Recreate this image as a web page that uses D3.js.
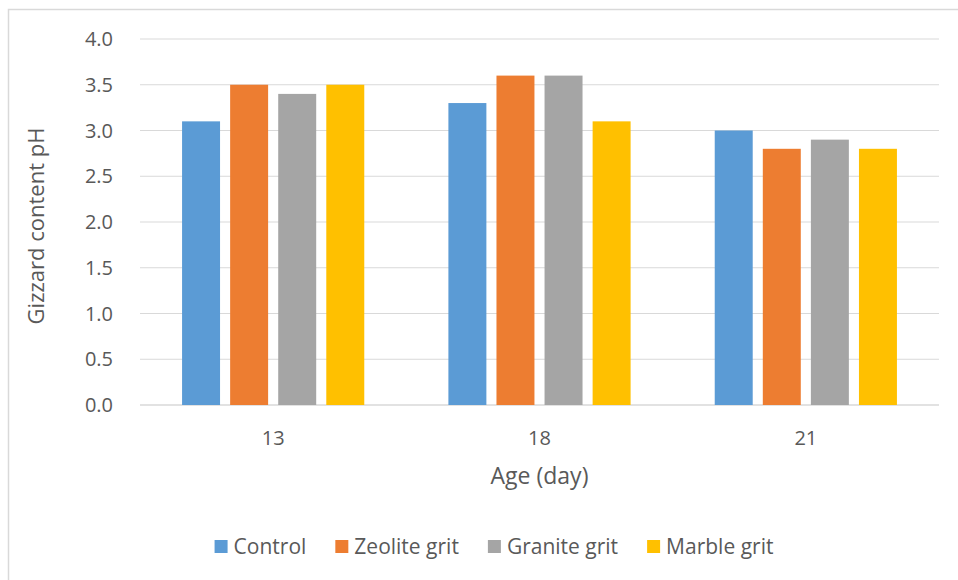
<!DOCTYPE html>
<html lang="en">
<head>
    <meta charset="UTF-8">
    <title>Gizzard content pH by age</title>
    <script src="https://d3js.org/d3.v7.min.js"></script>
    <style>
        body { margin: 0; background: #fff; }
        svg { display: block; font-family: "Open Sans", sans-serif; }
        .tick-label { fill: #595959; font-size: 20px; }
        .axis-title { fill: #595959; font-size: 22px; }
        .legend-label { fill: #595959; font-size: 21px; }
    </style>
</head>
<body>
<svg id="chart" width="958" height="580"></svg>
<script>
    const ages = ["13", "18", "21"];
    const seriesNames = ["Control", "Zeolite grit", "Granite grit", "Marble grit"];
    const control = [3.1, 3.3, 3.0];
    const zeolite = [3.5, 3.6, 2.8];
    const granite = [3.4, 3.6, 2.9];
    const marble = [3.5, 3.1, 2.8];
    const yTicks = [0, 0.5, 1, 1.5, 2, 2.5, 3, 3.5, 4];
    const colors = ["#5B9BD5", "#ED7D31", "#A5A5A5", "#FFC000"];

    const seriesValues = [control, zeolite, granite, marble];

    const plot = {left: 140, right: 939, top: 39, bottom: 405};

    const svg = d3.select("#chart");

    // chart frame (only left and top edges are visible in the picture)
    svg.append("rect")
        .attr("x", 8.5).attr("y", 9.5)
        .attr("width", 970).attr("height", 600)
        .attr("fill", "none")
        .attr("stroke", "#D9D9D9")
        .attr("stroke-width", 1.5);

    const x0 = d3.scaleBand()
        .domain(ages)
        .range([plot.left, plot.right])
        .padding(0);

    const x1 = d3.scaleBand()
        .domain(seriesNames)
        .range([0, x0.bandwidth()])
        .paddingInner(0.21)
        .paddingOuter(0.875);

    const y = d3.scaleLinear()
        .domain([0, 4])
        .range([plot.bottom, plot.top]);

    // gridlines
    svg.append("g")
        .selectAll("line")
        .data(yTicks)
        .join("line")
        .attr("x1", plot.left).attr("x2", plot.right)
        .attr("y1", d => y(d)).attr("y2", d => y(d))
        .attr("stroke", "#D9D9D9")
        .attr("stroke-width", d => d === 0 ? 1.5 : 1.2);

    // y tick labels
    svg.append("g")
        .selectAll("text")
        .data(yTicks)
        .join("text")
        .attr("class", "tick-label")
        .attr("x", 113)
        .attr("y", d => y(d))
        .attr("dy", "0.35em")
        .attr("text-anchor", "end")
        .text(d => d3.format(".1f")(d));

    // bars
    const groups = svg.append("g")
        .selectAll("g")
        .data(ages)
        .join("g")
        .attr("transform", d => `translate(${x0(d)},0)`);

    groups.selectAll("rect")
        .data((age, i) => seriesNames.map((s, j) => ({series: s, value: seriesValues[j][i], color: colors[j]})))
        .join("rect")
        .attr("x", d => x1(d.series))
        .attr("y", d => y(d.value))
        .attr("width", x1.bandwidth())
        .attr("height", d => y(0) - y(d.value))
        .attr("fill", d => d.color);

    // x tick labels
    svg.append("g")
        .selectAll("text")
        .data(ages)
        .join("text")
        .attr("class", "tick-label")
        .attr("x", d => x0(d) + x0.bandwidth() / 2)
        .attr("y", 445)
        .attr("text-anchor", "middle")
        .text(d => d);

    // axis titles
    svg.append("text")
        .attr("class", "axis-title")
        .style("font-size", "23px")
        .attr("x", (plot.left + plot.right) / 2)
        .attr("y", 484)
        .attr("text-anchor", "middle")
        .text("Age (day)");

    svg.append("text")
        .attr("class", "axis-title")
        .attr("transform", `translate(44,${(plot.top + plot.bottom) / 2 + 4}) rotate(-90)`)
        .attr("text-anchor", "middle")
        .text("Gizzard content pH");

    // legend
    const legend = svg.append("g");
    const items = legend.selectAll("g")
        .data(seriesNames)
        .join("g");
    items.append("rect")
        .attr("width", 13).attr("height", 13)
        .attr("y", -7)
        .attr("fill", (d, i) => colors[i]);
    items.append("text")
        .attr("class", "legend-label")
        .attr("x", 19)
        .attr("dy", "0.35em")
        .text(d => d);

    const gap = 29;
    let offset = 0;
    const positions = [];
    items.each(function() {
        positions.push(offset);
        const w = 19 + this.querySelector("text").getComputedTextLength();
        offset += w + gap;
    });
    const total = offset - gap;
    const startX = 494 - total / 2;
    items.attr("transform", (d, i) => `translate(${startX + positions[i]},547)`);
</script>
</body>
</html>
